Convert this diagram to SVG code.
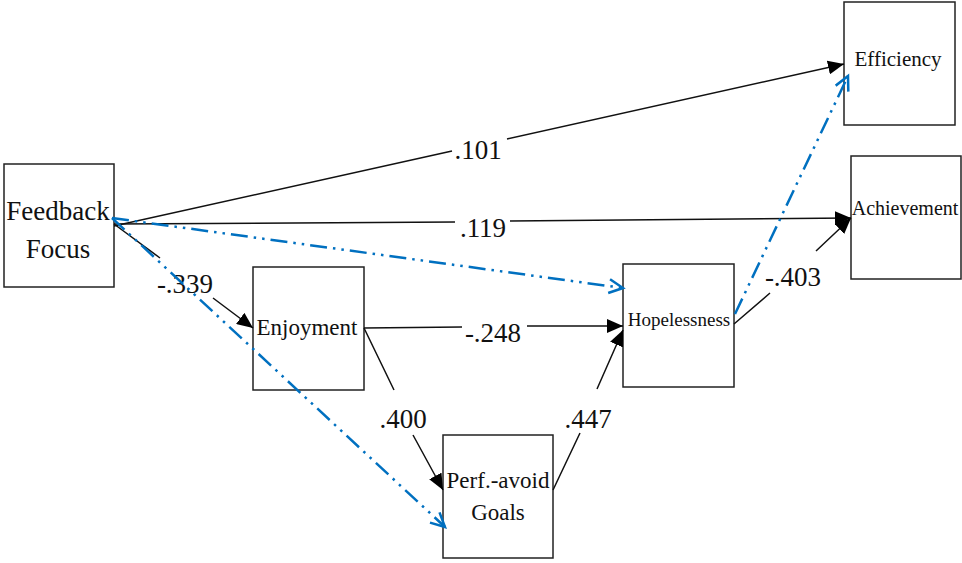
<svg xmlns="http://www.w3.org/2000/svg" width="962" height="563" viewBox="0 0 962 563">
<style>
.box{fill:#fff;stroke:#222;stroke-width:1.5}
.t{font-family:'Liberation Serif','DejaVu Serif',serif;fill:#111;text-anchor:middle}
.lb{font-family:'Liberation Serif','DejaVu Serif',serif;fill:#111;text-anchor:middle;font-size:27px}
.c{stroke:#111;stroke-width:1.5;fill:none}
.b{stroke:#0070C0;stroke-width:2.5;fill:none;stroke-dasharray:17 6 2.5 6 2.5 6}
</style>
<defs>
<marker id="ah" markerUnits="userSpaceOnUse" markerWidth="16" markerHeight="14" refX="16" refY="7" orient="auto">
<path d="M0,0 L16,7 L0,14 z" fill="#000"/>
</marker>
<marker id="ob" markerUnits="userSpaceOnUse" markerWidth="18" markerHeight="18" refX="15" refY="8" orient="auto">
<path d="M1,1 L15,8 L1,15" fill="none" stroke="#0070C0" stroke-width="2.5"/>
</marker>
</defs>
<g id="ff"><rect class="box" x="4" y="164" width="110" height="123"/><text class="t" font-size="27" x="58" y="220">Feedback</text><text class="t" font-size="27" x="58" y="258">Focus</text></g>
<g id="eff"><rect class="box" x="844" y="2" width="111" height="123"/><text class="t" font-size="21" x="898" y="66">Efficiency</text></g>
<g id="ach"><rect class="box" x="851" y="156" width="110" height="123"/><text class="t" font-size="20" x="905" y="215">Achievement</text></g>
<g id="enj"><rect class="box" x="253" y="267" width="111" height="123"/><text class="t" font-size="23" x="307" y="335">Enjoyment</text></g>
<g id="hop"><rect class="box" x="623" y="264" width="111" height="123"/><text class="t" font-size="19" x="679" y="326">Hopelessness</text></g>
<g id="perf"><rect class="box" x="443" y="435" width="110" height="123"/><text class="t" font-size="23" x="498" y="488">Perf.-avoid</text><text class="t" font-size="23" x="498" y="520">Goals</text></g>
<g id="connectors">
<path class="c" d="M114,226 L452,151 M507,139 L844,64" marker-end="url(#ah)"/>
<path class="c" d="M114,224 L455,222 M510,221 L851,218" marker-end="url(#ah)"/>
<path class="c" d="M114,224 L160,258 M213,298 L253,328" marker-end="url(#ah)"/>
<path class="c" d="M364,328 L462,327 M527,326 L623,326" marker-end="url(#ah)"/>
<path class="c" d="M364,328 L394,390 M413,435 L443,490" marker-end="url(#ah)"/>
<path class="c" d="M553,490 L580,433 M597,389 L623,330" marker-end="url(#ah)"/>
<path class="c" d="M734,324 L770,293 M816,251 L851,218" marker-end="url(#ah)"/>
<text class="lb" x="478" y="159">.101</text>
<text class="lb" x="483" y="237">.119</text>
<text class="lb" x="185" y="293">-.339</text>
<text class="lb" x="493" y="342">-.248</text>
<text class="lb" x="403" y="428">.400</text>
<text class="lb" x="588" y="428">.447</text>
<text class="lb" x="793" y="286">-.403</text>
<path class="b" d="M112,218 L623,288" marker-end="url(#ob)"/>
<path class="b" d="M112,218 L445,527" marker-end="url(#ob)"/>
<path class="b" d="M735,314 L848,76" marker-end="url(#ob)"/>
</g>
</svg>
